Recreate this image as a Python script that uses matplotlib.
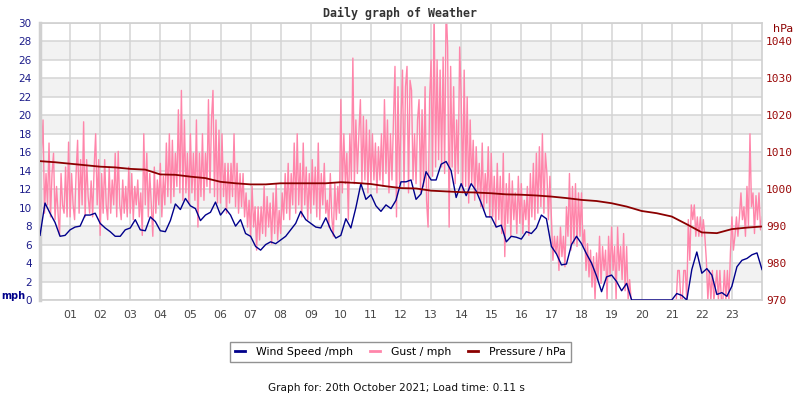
import numpy as np
import matplotlib
matplotlib.use("Agg")
import matplotlib.pyplot as plt
from matplotlib.lines import Line2D

# ---- data ----
wind_interval_min = 10
wind_speed = [
    7.0, 10.5, 9.4, 8.4, 6.9, 7.0,
    7.6, 7.9, 8.0, 9.2, 9.2, 9.4,
    8.3, 7.8, 7.4, 6.9, 6.9, 7.6,
    7.8, 8.7, 7.6, 7.5, 9.0, 8.5,
    7.5, 7.4, 8.6, 10.4, 9.8, 11.0,
    10.2, 9.9, 8.6, 9.2, 9.5, 10.6,
    9.2, 9.9, 9.2, 8.0, 8.7, 7.2,
    6.9, 5.8, 5.4, 6.0, 6.3, 6.1,
    6.5, 6.9, 7.6, 8.3, 9.6, 8.7,
    8.3, 7.9, 7.8, 8.9, 7.6, 6.7,
    7.0, 8.8, 7.8, 10.0, 12.6, 10.9,
    11.4, 10.2, 9.6, 10.3, 9.9, 10.8,
    12.8, 12.8, 13.0, 10.9, 11.5, 13.9,
    13.0, 13.0, 14.7, 15.0, 14.0, 11.1,
    12.6, 11.3, 12.6, 11.8, 10.5, 9.0,
    9.0, 7.9, 8.1, 6.3, 6.9, 6.8,
    6.6, 7.4, 7.2, 7.8, 9.2, 8.8,
    5.8, 5.0, 3.8, 3.9, 6.0, 6.9,
    6.1, 5.0, 4.0, 2.6, 0.9, 2.5,
    2.7, 2.0, 1.0, 1.8, 0.0, 0.0,
    0.0, 0.0, 0.0, 0.0, 0.0, 0.0,
    0.0, 0.7, 0.5, 0.0, 3.3, 5.2,
    2.9, 3.4, 2.7, 0.6, 0.8, 0.4,
    1.5, 3.6, 4.3, 4.5, 4.9, 5.1,
    3.3,
]

gust_interval_min = 3
gust = [
    11.0, 15.9, 19.5, 9.4, 13.7, 10.3, 17.0, 9.0, 13.7, 15.9, 8.7, 12.3, 9.4, 7.0, 13.7, 10.3, 9.4, 14.4, 9.0, 17.1,
    9.0, 13.7, 10.3, 8.7, 13.7, 17.3, 9.4, 15.2, 10.3, 19.3, 9.0, 15.2, 11.2, 9.4, 12.9, 9.0, 14.4, 18.0, 10.3, 15.2,
    7.0, 13.7, 9.4, 15.2, 10.3, 8.7, 14.4, 9.4, 13.0, 10.3, 15.9, 9.0, 16.1, 10.3, 8.7, 13.0, 9.4, 12.3, 9.0, 14.4,
    9.4, 13.7, 8.7, 12.3, 10.3, 13.0, 9.0, 11.6, 7.0, 18.0, 10.3, 15.9, 9.0, 13.7, 10.3, 6.9, 14.4, 9.4, 13.0, 10.3,
    14.8, 9.0, 13.4, 10.3, 17.0, 11.2, 18.0, 10.5, 17.3, 11.2, 15.9, 12.3, 20.6, 11.6, 22.7, 10.8, 19.5, 11.6, 15.9, 10.5,
    18.0, 11.6, 15.9, 10.8, 19.5, 7.9, 15.9, 11.2, 18.0, 10.8, 15.9, 12.3, 21.7, 11.6, 19.5, 22.7, 11.2, 19.5, 10.5, 18.4,
    10.5, 18.0, 11.2, 14.8, 9.4, 14.8, 10.5, 14.8, 11.2, 18.0, 10.1, 14.8, 9.4, 13.7, 10.1, 13.7, 9.0, 11.6, 7.9, 10.8,
    6.9, 12.3, 7.9, 10.1, 5.4, 10.1, 6.5, 10.1, 7.2, 12.3, 6.9, 11.2, 7.9, 10.5, 6.1, 11.6, 7.2, 12.6, 6.5, 9.7,
    7.2, 11.6, 8.7, 13.7, 9.4, 14.8, 8.7, 13.7, 10.3, 17.0, 9.4, 18.0, 10.3, 14.8, 9.0, 17.0, 10.3, 14.4, 8.7, 13.7,
    9.4, 15.2, 10.3, 14.4, 9.0, 17.0, 8.7, 13.7, 10.3, 14.8, 9.4, 10.8, 7.9, 13.7, 9.0, 6.9, 12.6, 8.7, 12.3, 9.4,
    21.7, 11.6, 18.0, 12.6, 15.9, 8.7, 18.0, 13.0, 26.2, 12.6, 19.5, 13.7, 18.0, 21.7, 12.6, 19.9, 13.0, 19.5, 11.6, 18.4,
    12.6, 18.0, 13.0, 17.0, 11.6, 16.6, 13.0, 18.0, 12.3, 21.7, 13.7, 19.5, 11.6, 18.0, 13.0, 19.5, 25.3, 9.0, 23.1, 12.6,
    19.5, 24.9, 12.3, 23.1, 25.3, 11.6, 23.8, 22.7, 13.0, 18.0, 12.6, 19.5, 21.7, 11.6, 20.6, 12.3, 23.1, 10.8, 7.9, 21.7,
    26.0, 13.4, 31.5, 14.4, 26.0, 15.2, 24.9, 14.4, 26.3, 13.7, 32.0, 27.4, 7.9, 25.3, 14.4, 23.1, 12.6, 19.5, 13.7, 27.4,
    22.0, 11.6, 24.9, 12.3, 22.0, 10.5, 19.5, 12.6, 17.3, 10.8, 16.6, 11.6, 14.8, 10.1, 17.0, 9.7, 13.7, 10.5, 16.6, 9.0,
    15.9, 9.0, 13.4, 7.9, 14.8, 8.7, 13.4, 7.2, 15.9, 4.7, 12.6, 8.3, 13.7, 6.9, 12.9, 8.7, 11.6, 7.2, 13.4, 8.3,
    12.6, 7.2, 10.8, 8.7, 12.3, 7.0, 13.7, 9.0, 14.8, 8.7, 15.9, 9.4, 16.6, 10.1, 18.0, 9.4, 15.9, 13.7, 8.7, 13.4,
    9.0, 4.3, 6.9, 5.1, 6.9, 3.2, 7.9, 4.7, 6.9, 3.6, 10.1, 6.9, 13.7, 5.4, 12.3, 6.1, 12.6, 5.8, 11.6, 6.9,
    11.6, 5.8, 7.6, 3.2, 6.1, 2.5, 5.4, 1.4, 4.7, 0.0, 5.1, 2.2, 6.9, 1.8, 5.8, 3.2, 5.4, 0.0, 6.9, 2.5,
    7.9, 3.2, 5.8, 0.0, 7.9, 3.2, 5.8, 2.2, 7.2, 1.0, 5.8, 0.0, 2.2, 0.0, 0.0, 0.0, 0.0, 0.0, 0.0, 0.0,
    0.0, 0.0, 0.0, 0.0, 0.0, 0.0, 0.0, 0.0, 0.0, 0.0, 0.0, 0.0, 0.0, 0.0, 0.0, 0.0, 0.0, 0.0, 0.0, 0.0,
    0.0, 0.0, 0.0, 0.0, 3.2, 3.2, 0.0, 0.0, 3.2, 3.2, 0.0, 8.7, 4.3, 10.3, 8.7, 10.3, 6.9, 9.0, 6.9, 9.0,
    6.9, 8.7, 6.9, 4.3, 0.0, 3.2, 0.0, 3.2, 0.0, 1.4, 3.2, 0.0, 3.2, 0.0, 0.0, 3.2, 0.0, 3.2, 0.0, 5.1,
    9.0, 5.4, 6.9, 9.0, 6.9, 9.0, 11.6, 8.7, 10.1, 6.9, 12.3, 7.9, 18.0, 10.1, 11.6, 7.2, 11.3, 8.7, 11.6, 7.6,
    9.0,
]

pressure_interval_min = 30
pressure = [
    1007.6, 1007.3, 1006.9, 1006.5, 1006.1, 1005.9, 1005.5, 1005.3,
    1004.0, 1003.9, 1003.4, 1003.0, 1002.0, 1001.6, 1001.3, 1001.3,
    1001.6, 1001.6, 1001.6, 1001.6, 1001.9, 1001.7, 1001.4, 1000.8,
    1000.3, 1000.2, 999.6, 999.4, 999.2, 999.1, 998.9, 998.6,
    998.5, 998.3, 998.0, 997.6, 997.1, 996.8, 996.2, 995.3,
    994.1, 993.5, 992.6, 990.5, 988.3, 988.1, 989.2, 989.6,
    989.9,
]

hour_labels = ["%02d" % h for h in range(1, 24)]
mph_ticks = list(range(0, 31, 2))
hpa_ticks = list(range(970, 1041, 10))

# ---- figure ----
fig = plt.figure(figsize=(8, 4), dpi=100)
ax = fig.add_axes([40 / 800, 1 - 300 / 400, 722 / 800, 277 / 400])

t_wind = np.arange(len(wind_speed)) * wind_interval_min / 60
t_gust = np.arange(len(gust)) * gust_interval_min / 60
t_pres = np.arange(len(pressure)) * pressure_interval_min / 60

ax.set_xlim(0, 24)
ax.set_ylim(0, 30)

for lo in range(2, 30, 4):
    ax.axhspan(lo, lo + 2, color="#f2f2f2", zorder=0, lw=0)

ax.set_xticks(range(1, 24))
ax.set_xticklabels(hour_labels)
ax.set_yticks(mph_ticks)
ax.grid(True, color="#d4d4d4", lw=1.1, zorder=0.5)
ax.set_axisbelow(True)

for name, sp in ax.spines.items():
    sp.set_color("#d0d0d0")
    sp.set_linewidth(1.2)
ax.spines["left"].set_linewidth(2.5)

ax.tick_params(axis="y", length=0, pad=6, labelsize=7.5, labelcolor="#1c1c8a")
ax.tick_params(axis="x", length=0, pad=7, labelsize=7.8, labelcolor="#444444")

ax.plot(t_gust, gust, color="#ff85aa", lw=1.0, zorder=2)
ax.plot(t_wind, wind_speed, color="#00008b", lw=1.0, zorder=3)

ax2 = ax.twinx()
ax2.set_ylim(970, 1045)
ax2.set_yticks(hpa_ticks)
ax2.set_yticklabels([str(v) for v in hpa_ticks], family="DejaVu Sans Mono")
ax2.tick_params(axis="y", length=0, pad=3, labelsize=8, labelcolor="#9a0a0a")
for sp in ax2.spines.values():
    sp.set_visible(False)
ax2.plot(t_pres, pressure, color="#8b0000", lw=1.3, zorder=4)

fig.text(400 / 800, 1 - 13 / 400, "Daily graph of Weather", ha="center", va="center",
         family="DejaVu Sans Mono", weight="bold", fontsize=8.4, color="#333333")
fig.text(1 / 800, 1 - 296 / 400, "mph", ha="left", va="center", weight="bold",
         fontsize=7, color="#00008b")
fig.text(793 / 800, 1 - 29 / 400, "hPa", ha="right", va="center",
         fontsize=8, color="#8b0000")

handles = [
    Line2D([], [], color="#00008b", lw=2),
    Line2D([], [], color="#ff85aa", lw=2),
    Line2D([], [], color="#8b0000", lw=2),
]
labels = ["Wind Speed /mph", "Gust / mph", "Pressure / hPa"]
leg = fig.legend(handles, labels, loc="center", bbox_to_anchor=(400.5 / 800, 1 - 352 / 400),
                 ncol=3, fontsize=7.8, frameon=True, fancybox=False, handlelength=0.9,
                 handletextpad=1.0, columnspacing=1.6, borderpad=0.5)
leg.get_frame().set_edgecolor("#777777")
leg.get_frame().set_linewidth(1.0)

fig.text(396 / 800, 1 - 388 / 400, "Graph for: 20th October 2021; Load time: 0.11 s",
         ha="center", va="center", fontsize=7.6, color="#111111")

fig.savefig("out.png", dpi=100)
